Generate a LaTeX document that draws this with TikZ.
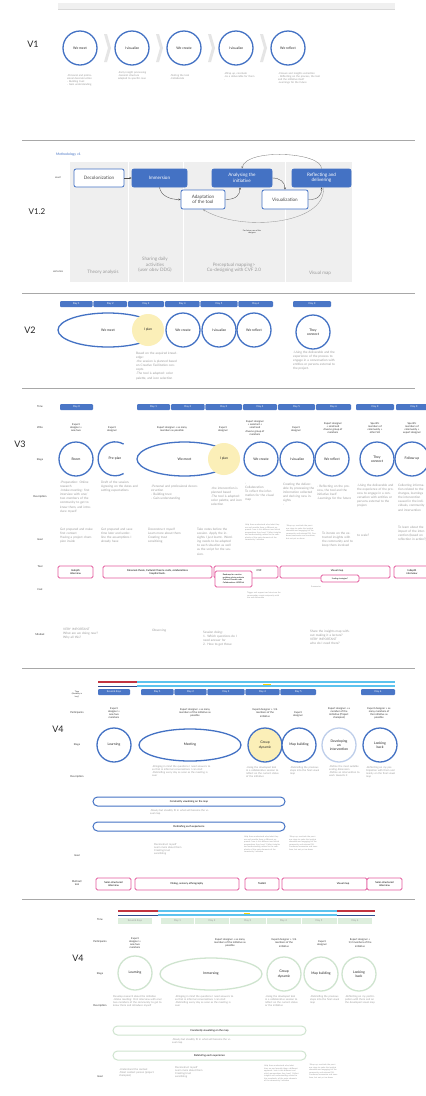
\documentclass[tikz,border=0pt]{standalone}
\usepackage{fontspec}
\setmainfont{Lato}
\usetikzlibrary{shapes.geometric,arrows.meta}

\definecolor{blueA}{HTML}{4472C4}
\definecolor{dayblue}{HTML}{4A76C6}
\definecolor{planY}{HTML}{FBEFB8}
\definecolor{pinkA}{HTML}{E35A9E}
\definecolor{sky}{HTML}{5CC3EE}
\definecolor{redA}{HTML}{C23440}
\definecolor{navy}{HTML}{2D4A8C}
\definecolor{mint}{HTML}{DDEEDD}
\definecolor{mintline}{HTML}{CFE4CF}
\definecolor{txtgray}{HTML}{9A9A9A}
\definecolor{panel}{HTML}{EFEFEF}
\definecolor{rulegray}{HTML}{A8A8A8}

\newcommand{\szA}{\fontsize{2.0}{2.5}\selectfont}
\newcommand{\szB}{\fontsize{2.6}{3.1}\selectfont}
\newcommand{\szC}{\fontsize{3.1}{4.1}\selectfont}
\newcommand{\szD}{\fontsize{3.4}{4.1}\selectfont}
\newcommand{\szE}{\fontsize{4.6}{5.4}\selectfont}
\newcommand{\szF}{\fontsize{9}{10}\selectfont}

\newcommand{\helpTxt}{Help them understand who/what they are and provide them a different approach: how is this different and which perspectives they have? Collect insights and understanding related to the complexity of the main elements of the community/ initiative}
\newcommand{\wrapTxt}{-Wrap up, conclude the previous steps to make the insights shareable and engaging for the community and external SH. Condense/summarize and transform, but not yet so dense}

\begin{document}
\begin{tikzpicture}[x=1pt,y=-1pt,
  stg/.style={circle, draw=blueA, line width=1.3pt, fill=white, minimum size=34pt,
    inner sep=0pt, align=center, font=\szD, text=black!85},
  stgE/.style={ellipse, draw=blueA, line width=1.3pt, fill=white, inner sep=0pt,
    font=\szD, text=black!85},
  plancirc/.style={circle, fill=planY, minimum size=32pt, inner sep=0pt,
    align=center, font=\szD, text=black!85},
  mintc/.style={stg, draw=mintline},
  day/.style={fill=dayblue, text=white, rounded corners=1pt, minimum height=6pt,
    inner sep=0pt, font=\szB},
  mday/.style={fill=mint, text=txtgray, minimum height=6pt, inner sep=0pt, font=\szB},
  dsc/.style={anchor=north west, inner sep=0pt, align=left, text=txtgray, font=\szC},
  dscS/.style={dsc, font=\szB},
  dscT/.style={dsc, font=\szA},
  who/.style={inner sep=0pt, align=center, text=black!80, font=\szB},
  rowlbl/.style={inner sep=0pt, align=center, text=black!80, font=\szB},
  vlbl/.style={inner sep=0pt, font=\szF, text=black!85},
  tool/.style={draw=pinkA, line width=0.8pt, rounded corners=1.5pt, inner sep=0pt,
    font=\szB, text=black, align=center, fill=white},
  sep/.style={draw=rulegray, line width=0.6pt},
  mbox/.style={draw=blueA, line width=0.8pt, rounded corners=2pt, inner sep=0pt,
    font=\szE, align=center},
  mfill/.style={mbox, fill=blueA, text=white},
  mwhite/.style={mbox, fill=white, text=black!70},
  flow/.style={-{Stealth[length=2.2pt,width=2pt]}, line width=0.35pt, draw=black!70},
  chev/.style={fill=gray!20},
  pill/.style={draw=blueA, line width=1pt, rounded corners=4.5pt, inner sep=0pt,
    font=\szB, text=black, fill=white},
  mpill/.style={pill, draw=mintline}
]
\fill[white] (0,0) rectangle (426,1096);
\useasboundingbox (0,0) rectangle (426,1096);

% ---------------- header strip ----------------
\fill[gray!12] (58,3) rectangle (395,10);
\draw[gray!30, line width=0.4pt] (58,9.5) -- (395,9.5);

% ---------------- V1 ----------------
\node[vlbl] (v1lbl) at (33,44) {V1};
\foreach \cx/\t [count=\i] in {80/We meet, 132/I visualize, 184/We create, 236/I visualize, 288/We reflect}
  \node[stg] (v1s\i) at (\cx,48) {\t};
\foreach \cx in {104,156,208,260}
  \fill[chev] (\cx,34) -- (\cx+3,34) -- (\cx+7,48) -- (\cx+3,62) -- (\cx,62) -- (\cx+4,48) -- cycle;
\node[dscS, text width=28pt] (v1d1) at (67,74) {-Personal and professional deconstruction\\- Building trust\\- Gain understanding};
\node[dscS, text width=31pt] (v1d2) at (118,71) {-Early insight processing\\-General structure adapted to specific case};
\node[dscS, text width=30pt] (v1d3) at (170,74) {-Testing the tool\\-Collaborate};
\node[dscS, text width=36pt] (v1d4) at (224,72) {-Wrap up, conclude\\-As a deliverable for them\\-};
\node[dscS, text width=46pt] (v1d5) at (278,72) {-Closure and insights extraction\\- Reflecting on the process, the tool and the initiative itself\\-Learnings for the future};

\draw[sep] (22,140) -- (415,140);

% ---------------- V1.2 ----------------
\node[vlbl, font=\fontsize{8}{9}\selectfont] (v12lbl) at (37,212) {V1.2};
\node[inner sep=0pt, anchor=west, text=blueA, font=\szD] (v12t) at (56,155) {Methodology v1};
\fill[panel] (70,162) rectangle (128,282);
\fill[panel] (128.7,162) rectangle (183,282);
\fill[panel] (183.7,162) rectangle (285,282);
\fill[panel] (285.7,162) rectangle (352,282);
\node[rowlbl, font=\szA] (what) at (58,178) {WHAT};
\node[rowlbl, font=\szA] (meth) at (58,272) {METHODS};

\node[mwhite, minimum width=50pt, minimum height=18pt] (dec) at (99,178) {Decolonization};
\node[mfill, minimum width=55pt, minimum height=18pt] (imm) at (159.5,178) {Immersion};
\node[mwhite, minimum width=44pt, minimum height=19pt] (ada) at (203,199.5) {Adaptation\\of the tool};
\node[mfill, minimum width=60pt, minimum height=18pt] (ana) at (242,178) {Analysing the\\initiative};
\node[mwhite, minimum width=46pt, minimum height=19pt] (vis) at (285,199.5) {Visualization};
\node[mfill, minimum width=59pt, minimum height=18pt] (ref) at (321.5,178) {Reflecting and\\delivering};

\draw[flow] (dec.east) -- (imm.west);
\draw[flow] (imm.south) .. controls (161,196) and (170,199.5) .. (ada.west);
\draw[flow] (ada.east) .. controls (236,199.5) and (240,195) .. ([xshift=-2pt]ana.south);
\draw[flow] (ana.east) .. controls (280,178) and (285,182) .. (vis.north);
\draw[flow] (vis.east) .. controls (318,200) and (322,195) .. (ref.south);
\draw[flow, draw=black!50] (ref.north) .. controls (322,152) and (246,148) .. (ana.north);
\draw[flow, draw=black!40] ([xshift=2pt]ref.south) .. controls (326,225) and (240,232) .. (ada.south);
\node[inner sep=0pt, align=center, font=\szA, text=black!80] (future) at (252,232) {For future use of the\\designer};

\node[inner sep=0pt, text=txtgray, font=\szE] (m1) at (103,272) {Theory analysis};
\node[inner sep=0pt, text=txtgray, font=\szE, align=center] (m2) at (155,265) {Sharing daily\\activities\\(user obsv DDG)};
\node[inner sep=0pt, text=txtgray, font=\szE, align=center] (m3) at (234,268) {Perceptual mapping>\\Co-designing with CVF 2.0};
\node[inner sep=0pt, text=txtgray, font=\szE] (m4) at (320,273) {Visual map};

\draw[sep] (22,293) -- (415,293);

% ---------------- V2 ----------------
\node[vlbl] (v2lbl) at (30,330) {V2};
\foreach \a/\b/\t [count=\i] in {60/92.6/Day 1, 93.4/127/Day 2, 128/164/Day 3, 165/199.6/Day 4, 200.4/237.6/Day 5, 238.4/273/Day 6, 293/331/Day X}
  \node[day, minimum width={(\b-\a)*1pt}] (v2d\i) at ({(\a+\b)/2},304) {\t};
\node[stgE, minimum width=100pt, minimum height=34pt] (v2meet) at (108,330) {We meet};
\node[plancirc] (v2plan) at (148,330) {I plan};
\node[stg] (v2cre) at (183,330) {We create};
\node[stg] (v2vis) at (219,330) {I visualize};
\node[stg] (v2ref) at (254,330) {We reflect};
\node[stg] (v2con) at (313,332) {They\\connect};
\node[dsc, text width=44pt] (v2dp) at (136,352) {Based on the acquired knowledge:\\-the session is planned based on Creative Facilitation concepts\\-The tool is adapted: color palette, and icon selection};
\node[dsc, text width=44pt] (v2dc) at (293,351) {-Using the deliverable and the experience of the process to engage in a conversation with entities or persons external to the project.};

\fill[white] (0,387) rectangle (426,394);
\draw[sep] (22,388) -- (415,388);

% ---------------- V3 ----------------
\node[vlbl] (v3lbl) at (20,444) {V3};
\foreach \t/\y [count=\i] in {Time/407, Who/428, Stage/460, Description/497, Goal/540, Tool/567, Cost/590, Mindset/635}
  \node[rowlbl] (v3r\i) at (40,\y) {\t};
\node[day, minimum width=33pt] (v3d0) at (76.5,407) {Day 0};
\foreach \a/\b/\t [count=\i] in {137/170/Day 1, 171/204.6/Day 2, 205.4/242/Day 3, 243/277/Day 4, 278/315/Day 5, 316/351/Day 6, 356/394/Day X, 396/432/Day X}
  \node[day, minimum width={(\b-\a)*1pt}] (v3d\i) at ({(\a+\b)/2},407) {\t};

\node[who] (v3w1) at (76,428) {Expert\\designer +\\one/two};
\node[who] (v3w2) at (112,429) {Expert\\designer};
\node[who] (v3w3) at (172,429) {Expert designer + as many\\members as possible};
\node[who] (v3w4) at (223,429) {Expert\\designer};
\node[who] (v3w5) at (255,428) {Expert designer\\+ assistant +\\small and\\diverse group of\\members};
\node[who] (v3w6) at (296,429) {Expert\\designer};
\node[who] (v3w7) at (333,428) {Expert designer\\+ small and\\diverse group of\\members};
\node[who] (v3w8) at (375,428) {Specific\\members of\\community +\\other SH};
\node[who] (v3w9) at (412,428) {Specific\\members of\\community +\\expert designer};

\node[stg] (v3room) at (76,459) {Room};
\node[minimum size=34pt, circle, inner sep=0pt, font=\szD, text=black!85] (v3pre) at (115,459) {Pre-plan};
\draw[blueA, line width=1.3pt] (v3pre.60) arc[start angle=60, end angle=300, radius=17pt];
\node[stgE, minimum width=95pt, minimum height=34pt] (v3meet) at (184.5,459) {We meet};
\node[plancirc] (v3plan) at (224,459) {I plan};
\node[stg] (v3cre) at (261,459) {We create};
\node[stg] (v3vis) at (297,459) {I visualize};
\node[stg] (v3ref) at (332,459) {We reflect};
\node[stg] (v3con) at (377,459) {They\\connect};
\node[stg] (v3fol) at (412,459) {Follow up};

\node[dsc, text width=32pt] (v3e1) at (60,481) {-Preparation: Online research\\-Intake meeting: first interview with one/ two members of the community to get to know them, and introduce myself};
\node[dsc, text width=37pt] (v3e2) at (101,481) {Draft of the session. Agreeing on the dates and setting expectations};
\node[dsc, text width=52pt] (v3e3) at (151,485) {-Personal and professional deconstruction\\- Building trust\\- Gain understanding};
\node[dsc, text width=31pt] (v3e4) at (211,487) {-the intervention is planned based\\-The tool is adapted: color palette, and icon selection};
\node[dsc, text width=30pt] (v3e5) at (245,483) {-\\Collaboration\\To reflect the information for the visual map};
\node[dsc, text width=31pt] (v3e6) at (283,483) {Creating the deliverable by processing the information collected and deriving new insights\\-};
\node[dsc, text width=35pt] (v3e7) at (317,485) {- Reflecting on the process, the tool and the initiative itself\\-Learnings for the future};
\node[dsc, text width=37pt] (v3e8) at (357,484) {-Using the deliverable and the experience of the process to engage in a conversation with entities or persons external to the project.};
\node[dsc, text width=30pt] (v3e9) at (398,484) {Collecting information related to the changes, learnings the intervention caused in the individuals, community and intervention};

\node[dsc, text width=35pt] (v3g1) at (60,528) {Get prepared and make first contact\\Having a project champion inside};
\node[dsc, text width=35pt] (v3g2) at (101,528) {Get prepared and save time later and underline the assumptions I already have};
\node[dsc, text width=44pt] (v3g3) at (148,528) {Deconstruct myself\\Learn more about them\\Creating trust\\sensitizing};
\node[dsc, text width=36pt] (v3g4) at (197,528) {Take notes before the session. Apply the insights I just learnt. Wording needs to be adapted to each situation as well as the script for the session.};
\node[dscT, text width=36pt] (v3g5) at (245,524) {\helpTxt};
\node[dscT, text width=31pt] (v3g6) at (286,525) {\wrapTxt};
\node[dsc, text width=32pt] (v3g7) at (322,532) {To iterate on the extracted insights with the community and to keep them involved};
\node[dsc, text width=32pt] (v3g8) at (357,534) {to scale?};
\node[dsc, text width=30pt] (v3g9) at (398,526) {To learn about the impact of the intervention (based on reflection in action?)};

\node[tool, minimum width=35pt, minimum height=12pt] (v3t1) at (75.5,572) {Indepth\\interview};
\node[tool, minimum width=109pt, minimum height=12pt] (v3t2) at (157.5,572) {Fatsanals thesis, Cultural Chasms cards, colaborations\\hospital tools.};
\node[tool, minimum width=64pt, minimum height=12pt] (v3t3) at (246,572) {};
\node[inner sep=0pt, font=\szB] (v3t3x) at (259,571) {CVF};
\node[tool, minimum width=37pt, minimum height=16pt, font=\szA, align=left] (v3t4) at (233.5,579) {Roadmap for creative\\problem solving activate\\Cultural Chasms cards\\Collaborations HOSPital};
\node[tool, minimum width=110pt, minimum height=12pt] (v3t5) at (335,572) {};
\node[inner sep=0pt, font=\szB] (v3t5x) at (337,570.5) {Visual map};
\node[tool, minimum width=38pt, minimum height=7pt, font=\szA] (v3t6) at (340,578.5) {Scaling strategies?};
\node[tool, minimum width=36pt, minimum height=12pt] (v3t7) at (412,572) {Indepth\\interview};
\node[inner sep=0pt, text=txtgray, font=\szA] (v3sum) at (316,587) {Summaries};
\node[dscT, text width=34pt] (v3cost) at (247,592) {Trigger and support and structure the conversation create reciprocity with the and deliverable};

\node[dsc, text width=38pt] (v3m1) at (63,628) {VERY IMPORTANT\\What are we doing now? Why all this?};
\node[dsc] (v3m2) at (152,629) {Observing};
\node[dsc, text width=38pt] (v3m3) at (203,631) {Session doing:\\1. Which questions do I need answer for\\2. How to get those};
\node[dsc, text width=40pt] (v3m4) at (310,630) {Share the insights map without making it a lecture?\\VERY IMPORTANT\\who do I need there?};

\draw[sep] (22,668) -- (415,668);

% ---------------- V4 ----------------
\node[vlbl] (v4lbl) at (58,729) {V4};
\node[rowlbl, font=\szA] (v4r1) at (77,694) {Time\\(flexibility is\\key!)};
\node[rowlbl] (v4r2) at (77,713) {Participants};
\node[rowlbl] (v4r3) at (77,745) {Stage};
\node[rowlbl] (v4r4) at (77,777) {Description};
\node[rowlbl] (v4r5) at (77,856) {Goal};
\node[rowlbl] (v4r6) at (77,883) {Method/\\tool};

\draw[redA, line width=1.5pt] (98,682) -- (137,682);
\draw[navy, line width=1pt] (98,686) -- (137,686);
\draw[sky, line width=1.3pt] (137,682) -- (395,682);
\draw[sky, line width=1.3pt] (137,686) -- (395,686);
\draw[yellow!70!orange, line width=1pt] (263,684) -- (271,684);
\foreach \a/\b/\t [count=\i] in {98/130/Several days, 141/173.6/Day 1, 174.4/206.6/Day 2, 207.4/244.6/Day 3, 245.4/279.6/Day 4, 280.4/316/Day 5, 361/395/Day 6}
  \node[day, minimum width={(\b-\a)*1pt}] (v4d\i) at ({(\a+\b)/2},692) {\t};

\node[who, font=\szB] (v4p1) at (114,713) {Expert\\designer +\\one/two\\members};
\node[who] (v4p2) at (195,713) {Expert designer + as many\\members of the initiative as\\possible};
\node[who] (v4p3) at (265,713) {Expert designer + 1/6\\members of the\\initiative};
\node[who] (v4p4) at (298,714) {Expert\\designer};
\node[who] (v4p5) at (339,713) {Expert designer + a\\member of the\\initiative (Project\\champion)};
\node[who] (v4p6) at (379,713) {Expert designer + as\\many members of\\the initiative as\\possible};

\node[stg] (v4learn) at (114,745) {Learning};
\node[stgE, minimum width=102pt, minimum height=32pt] (v4meet) at (190,745) {Meeting};
\node[stg, fill=planY] (v4grp) at (265,745) {Group\\dynamic};
\node[stg] (v4map) at (299,745) {Map building};
\node[stg, draw=blueA!35] (v4dev) at (339,745) {Developing\\an\\intervention};
\node[stg] (v4look) at (380,745) {Looking\\back};

\node[dscS, text width=60pt] (v4e2) at (152,765) {-Bringing in mind the questions I need answers to so that in informal conversations I can start\\-Debriefing every day as soon as the meeting is over};
\node[dscS, text width=35pt] (v4e3) at (246,766) {-Using the developed tool in a collaborative session to reflect on the current status of the initiative};
\node[dscS, text width=30pt] (v4e4) at (290,766) {-Debriefing the previous steps into the final visual map};
\node[dscS, text width=31pt] (v4e5) at (329,765) {-Define the most suitable scaling dimension\\-Define an intervention to work towards it};
\node[dscS, text width=31pt] (v4e6) at (366,766) {-Reflecting on my participation with them and mainly on the final visual map};

\node[pill, minimum width=192pt, minimum height=9pt] (v4c1) at (189,801.5) {Constantly visualizing on the map};
\node[dscS, text width=62pt] (v4slow) at (150,809) {-Slowly but steadily fit in what will become the visual map};
\node[pill, minimum width=192pt, minimum height=9pt] (v4c2) at (189,826.5) {Debriefing each experience};

\node[dscS, text width=44pt] (v4g2) at (154,843) {Deconstruct myself\\Learn more about them\\Creating trust\\sensitizing};
\node[dscT, text width=36pt] (v4g3) at (244,836) {\helpTxt};
\node[dscT, text width=29pt] (v4g4) at (289,836) {\wrapTxt};

\node[tool, minimum width=35pt, minimum height=12pt] (v4t1) at (113.5,884) {Semi-structured\\interview};
\node[tool, minimum width=104pt, minimum height=12pt] (v4t2) at (187,884) {Dialog, sensory ethnography};
\node[tool, minimum width=34pt, minimum height=12pt] (v4t3) at (262,884) {Toolkit};
\node[tool, minimum width=85pt, minimum height=12pt] (v4t4) at (324.5,884) {};
\node[inner sep=0pt, font=\szB] (v4t4x) at (343,884) {Visual map};
\node[tool, minimum width=35pt, minimum height=12pt] (v4t5) at (384.5,884) {Semi-structured\\interview};

\draw[sep] (22,899) -- (415,899);

% ---------------- V4 (second) ----------------
\node[vlbl] (v5lbl) at (78,958) {V4};
\foreach \t/\y [count=\i] in {Time/920, Participants/942, Stage/974, Description/1006, Goal/1077}
  \node[rowlbl] (v5r\i) at (100,\y) {\t};

\draw[redA, line width=1.5pt] (118,911) -- (158,911);
\draw[navy, line width=1pt] (118,915) -- (158,915);
\draw[sky, line width=1.3pt] (158,911) -- (337,911);
\draw[sky, line width=1.3pt] (158,915) -- (337,915);
\draw[redA, line width=1.5pt] (337,911) -- (375,911);
\draw[navy, line width=1pt] (337,915) -- (375,915);
\draw[yellow!70!orange, line width=1pt] (244,913) -- (250,913);
\foreach \a/\b/\t [count=\i] in {118/152/Several days, 161/194/Day 1, 195/229/Day 2, 230/265.5/Day 3, 266.5/300.5/Day 4, 301.5/336.5/Day 5, 338/372/Day 6}
  \node[mday, minimum width={(\b-\a)*1pt}] (v5d\i) at ({(\a+\b)/2},921) {\t};

\node[who] (v5p1) at (135,943) {Expert\\designer +\\one/two\\members};
\node[who] (v5p2) at (230,943) {Expert designer + as many\\members of the initiative as\\possible};
\node[who] (v5p3) at (284,943) {Expert designer + 1/6\\members of the\\initiative};
\node[who] (v5p4) at (322,943) {Expert\\designer};
\node[who] (v5p5) at (360,943) {Expert designer +\\1/2 members of the\\initiative};

\node[mintc] (v5learn) at (135,973) {Learning};
\node[stgE, draw=mintline, minimum width=102pt, minimum height=32pt] (v5imm) at (211,974) {Immersing};
\node[mintc] (v5grp) at (284,974) {Group\\dynamic};
\node[mintc] (v5map) at (321,974) {Map building};
\node[mintc] (v5look) at (359,974) {Looking\\back};

\node[dscS, text width=52pt] (v5e1) at (113,995) {Develop research about the initiative\\-Intake meeting: First interview with one/ two members of the community to get to know them and introduce myself};
\node[dscS, text width=60pt] (v5e2) at (175,995) {-Bringing in mind the questions I need answers to so that in informal conversations I can start\\-Debriefing every day as soon as the meeting is over};
\node[dscS, text width=34pt] (v5e3) at (265,995) {-Using the developed tool in a collaborative session to reflect on the current status or the initiative};
\node[dscS, text width=30pt] (v5e4) at (310,995) {-Debriefing the previous steps into the final visual map};
\node[dscS, text width=31pt] (v5e5) at (345,995) {-Reflecting on my participation with them and on the developed visual map};

\node[mpill, minimum width=193pt, minimum height=9pt] (v5c1) at (209.5,1030.5) {Constantly visualizing on the map};
\node[dscS, text width=62pt] (v5slow) at (172,1038) {-Slowly but steadily fit in what will become the visual map};
\node[mpill, minimum width=193pt, minimum height=9pt] (v5c2) at (209.5,1055.5) {Debriefing each experience};

\node[dscS, text width=40pt] (v5g1) at (119,1068) {-Understand the context\\-Meet contact person (project champion)};
\node[dscS, text width=44pt] (v5g2) at (175,1066) {Deconstruct myself\\Learn more about them\\Creating trust\\sensitizing};
\node[dscT, text width=35pt] (v5g3) at (264,1065) {\helpTxt};
\node[dscT, text width=29pt] (v5g4) at (309,1064) {\wrapTxt};

\end{tikzpicture}
\end{document}
